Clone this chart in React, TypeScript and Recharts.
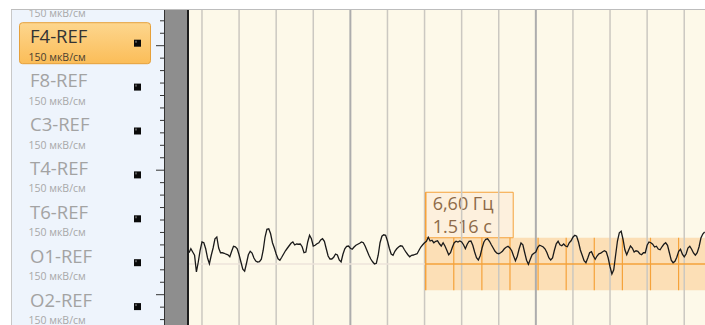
import React from "react";
import {
  LineChart,
  Line,
  XAxis,
  YAxis,
  ReferenceLine,
  ReferenceArea,
} from "recharts";

// montage in the left panel (the first one is scrolled almost out of view)
const channelNames = [
  "Fp2-REF",
  "F4-REF",
  "F8-REF",
  "C3-REF",
  "T4-REF",
  "T6-REF",
  "O1-REF",
  "O2-REF",
];
const channelSensitivity = "150 мкВ/см";
const selectedChannel = "F4-REF";

// time base
const sampleRate = 100; // Hz
const startTime = 0.13; // s, left edge of the page
const windowSeconds = 2.782;
const endTime = startTime + windowSeconds;
const gridTimes = [
  0.2, 0.4, 0.6, 0.8, 1.0, 1.2, 1.4, 1.6, 1.8, 2.0, 2.2, 2.4, 2.6, 2.8,
];
const majorGridTimes = [1.0, 2.0];

// O1-REF, µV, one value per sample
const o1Values = [
  45, 61, 48, 35, -32, 8, 55, 88, 85, 61,
  24, 1, 35, 64, 101, 108, 64, 45, 45, 43,
  39, 37, 29, 51, 71, 69, 61, 37, 8, -21,
  -29, 3, 37, 51, 44, 24, 12, 8, 9, 19,
  55, 108, 139, 141, 121, 85, 64, 40, 21, 15,
  27, 40, 53, 63, 73, 83,
  88, 76, 80, 79, 80, 69, 45, 48, 88, 115,
  101, 72, 75, 81, 85, 96, 101, 91, 61, 32,
  20, 20, 27, 40, 36, 16, 8, 39, 61, 71,
  72, 63, 59, 68, 75, 79, 83, 88, 85, 71,
  53, 35, 20, 9, 0, 3, 35, 85, 111, 117,
  115, 92, 63, 40, 35,
  51, 61, 68, 73, 72, 59, 47, 37, 29, 35,
  36, 39, 41, 55, 68, 77, 85, 91, 107, 92,
  95, 85, 91, 93, 81, 72, 85, 72, 55, 37,
  45, 67, 85, 91, 88, 92, 88, 77, 61, 79,
  91, 92, 75, 48, 25, 16, 33, 64, 88, 99,
  101, 91, 77, 64, 51, 43,
  41, 45, 51, 61, 67, 71, 64, 53, 32, 13,
  31, 61, 84, 77, 45, 15, -1, 19, 37, 43,
  48, 67, 75, 72, 68, 60, 45, 25, 16, 24,
  55, 81, 91, 77, 73, 80, 72, 69, 85, 93,
  107, 115, 111, 88, 56, 35, 13, 5, 24, 45,
  49, 32, 19, 32, 41,
  43, 49, 53, 48, 24, -11, -40, -23, 35, 92,
  125, 131, 99, 57, 37, 55, 72, 64, 48, 53,
  51, 41, 37, 45, 45, 75, 88, 85, 79, 68,
  71, 60, 57, 69, 79, 85, 75, 45, 15, 5,
  11, 27, 51, 59, 39, 29, 40, 64, 71, 59,
  44, 35, 45, 69, 104, 120, 128,
];

// frequency marker selection on O1
const selectionStart = 1.406; // s
const selectionFreq = 6.6; // Hz
const selectionHalf = 105; // µV
const selectionBoxTop = 287; // µV
const selectionBoxWidth = 0.472; // s
const selectionLabels = ["6,60 Гц", "1.516 с"];

const UV_MIN = -244;
const UV_MAX = 1016;

const CHART_W = 516;
const CHART_H = 315;
const FONT = '"Open Sans", "Noto Sans", sans-serif';

const ORANGE = "#f5a23a";

const data = o1Values.map((v, i) => ({ t: startTime + i / sampleRate, v }));

const markTimes: number[] = [];
for (let k = 1; selectionStart + k / selectionFreq < endTime; k++) {
  markTimes.push(selectionStart + k / selectionFreq);
}

function SelectionBoxLabel(props: any) {
  const vb = props.viewBox || {};
  return (
    <g>
      <text
        x={vb.x + 7}
        y={vb.y + 18}
        fontFamily={FONT}
        fontSize={18}
        fill="#8d6a48"
      >
        {selectionLabels[0]}
      </text>
      <text
        x={vb.x + 7}
        y={vb.y + 41}
        fontFamily={FONT}
        fontSize={18}
        fill="#8d6a48"
      >
        {selectionLabels[1]}
      </text>
    </g>
  );
}

function ChannelPanel() {
  // local coords: page x - 11, page y - 10
  const rowH = 43.9;
  const firstCenter = -10.7;
  const ticks = [];
  for (let k = -3; k < 24; k++) {
    const y = 35.7 + k * 12.45;
    const len = k % 10 === 0 ? 8 : 4;
    ticks.push(
      <line
        key={k}
        x1={153 - len}
        x2={153}
        y1={y}
        y2={y}
        stroke="#333"
        strokeWidth={1}
      />
    );
  }
  return (
    <svg
      width={178}
      height={315}
      style={{ position: "absolute", left: 11, top: 10 }}
    >
      <defs>
        <linearGradient id="selGrad" x1="0" y1="0" x2="0" y2="1">
          <stop offset="0%" stopColor="#fdd68e" />
          <stop offset="100%" stopColor="#fbbd58" />
        </linearGradient>
      </defs>
      <rect x={0} y={0} width={153} height={315} fill="#eef4fc" />
      <line x1={0.5} x2={0.5} y1={0} y2={315} stroke="#c8c8c8" />
      {channelNames.map((name, k) => {
        const cy = firstCenter + k * rowH;
        const selected = name === selectedChannel;
        return (
          <g key={name}>
            {selected && (
              <rect
                x={8.5}
                y={cy - 20.5}
                width={131}
                height={41}
                rx={3}
                fill="url(#selGrad)"
                stroke="#e6a03a"
              />
            )}
            <text
              x={19}
              y={cy}
              fontFamily={FONT}
              fontSize={18.5}
              fill={selected ? "#333" : "#a3a3a3"}
            >
              {name}
            </text>
            <text
              x={17.5}
              y={cy + 17.5}
              fontFamily={FONT}
              fontSize={10.5}
              fill={selected ? "#4a3f30" : "#a8a8a8"}
            >
              {channelSensitivity}
            </text>
            <rect x={123} y={cy - 3.5} width={7} height={7} fill="#0a0a0a" />
            <rect x={124} y={cy - 2.5} width={2} height={2} fill="#555" />
          </g>
        );
      })}
      {ticks}
      <line x1={153.5} x2={153.5} y1={0} y2={315} stroke="#333" />
      <rect x={154} y={0} width={22} height={315} fill="#8e8e8e" />
      <rect x={176} y={0} width={2} height={315} fill="#1c1c1c" />
    </svg>
  );
}

export default function App() {
  return (
    <div
      style={{
        position: "absolute",
        left: 0,
        top: 0,
        width: 705,
        height: 325,
        background: "#ffffff",
        overflow: "hidden",
      }}
    >
      <div
        style={{
          position: "absolute",
          left: 11,
          top: 9,
          width: 694,
          height: 1,
          background: "#bdbdbd",
        }}
      />
      <ChannelPanel />
      <div
        style={{
          position: "absolute",
          left: 189,
          top: 10,
          width: CHART_W,
          height: CHART_H,
          background: "#fdf9e9",
        }}
      >
        <LineChart
          width={CHART_W}
          height={CHART_H}
          data={data}
          margin={{ top: 0, right: 0, bottom: 0, left: 0 }}
        >
          <XAxis
            type="number"
            dataKey="t"
            domain={[startTime, endTime]}
            allowDataOverflow
            hide
          />
          <YAxis
            type="number"
            domain={[UV_MIN, UV_MAX]}
            allowDataOverflow
            hide
          />
          {gridTimes.map((t) => {
            const major = majorGridTimes.includes(t);
            return (
              <ReferenceLine
                key={t}
                x={t}
                stroke={major ? "#adadad" : "#cbc8c1"}
                strokeWidth={major ? 2 : 1.5}
              />
            );
          })}
          <ReferenceLine
            segment={[
              { x: startTime, y: 0 },
              { x: selectionStart, y: 0 },
            ]}
            stroke="#ece3da"
            strokeWidth={1.5}
          />
          <ReferenceArea
            x1={selectionStart}
            x2={endTime}
            y1={-selectionHalf}
            y2={selectionHalf}
            fill="#fbd6a4"
            fillOpacity={0.75}
            stroke="none"
          />
          {markTimes.map((t) => (
            <ReferenceLine
              key={t}
              segment={[
                { x: t, y: -selectionHalf },
                { x: t, y: selectionHalf },
              ]}
              stroke={ORANGE}
              strokeWidth={1.2}
            />
          ))}
          <ReferenceLine
            segment={[
              { x: selectionStart, y: 0 },
              { x: endTime, y: 0 },
            ]}
            stroke={ORANGE}
            strokeWidth={1.5}
          />
          <ReferenceArea
            x1={selectionStart}
            x2={selectionStart + selectionBoxWidth}
            y1={selectionHalf}
            y2={selectionBoxTop}
            fill="#fdeedb"
            fillOpacity={0.9}
            stroke={ORANGE}
            strokeWidth={1}
            label={<SelectionBoxLabel />}
          />
          <ReferenceLine
            segment={[
              { x: selectionStart, y: -selectionHalf },
              { x: selectionStart, y: selectionBoxTop },
            ]}
            stroke={ORANGE}
            strokeWidth={1.5}
          />
          <Line
            type="linear"
            dataKey="v"
            stroke="#1a1a1a"
            strokeWidth={1.3}
            dot={false}
            activeDot={false}
            isAnimationActive={false}
          />
        </LineChart>
      </div>
    </div>
  );
}
